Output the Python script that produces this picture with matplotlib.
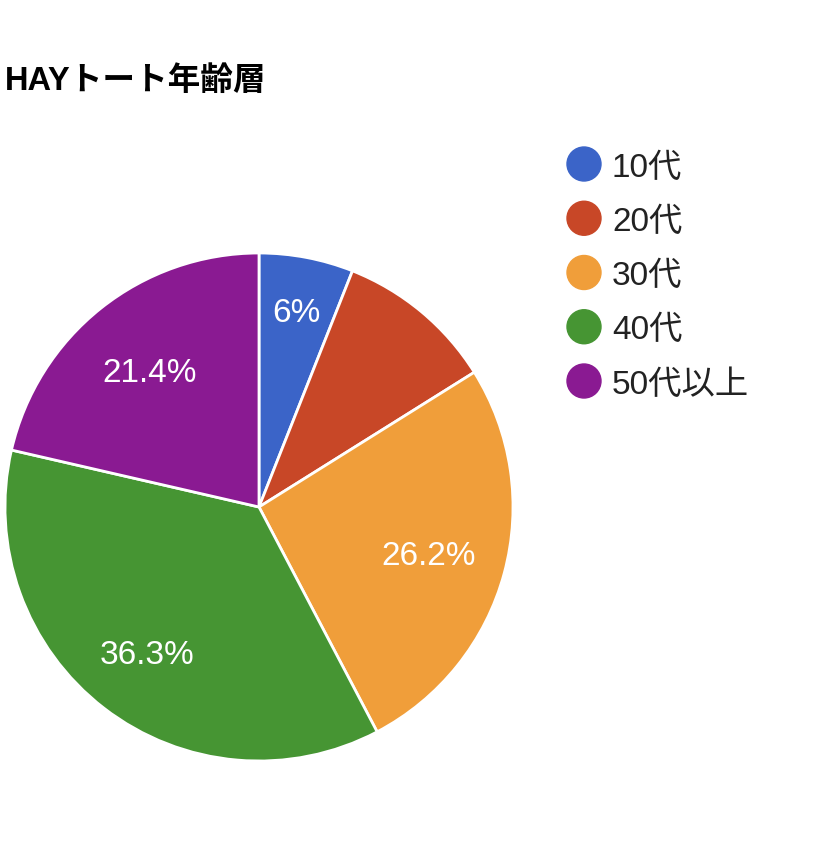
import numpy as np
import matplotlib
matplotlib.use("Agg")
import matplotlib.pyplot as plt

plt.rcParams['font.family'] = ['Liberation Sans', 'Noto Sans CJK JP', 'DejaVu Sans']

title = "HAYトート年齢層"
categories = ["10代", "20代", "30代", "40代", "50代以上"]
shares = [6.0, 10.1, 26.2, 36.3, 21.4]
shown = [True, False, True, True, True]
colors = ["#3b64c8", "#c84727", "#f09e3a", "#469533", "#8a1a92"]

W, H = 816, 855
fig = plt.figure(figsize=(W / 100, H / 100), dpi=100)

cx, cy, r = 259, 507, 254
ax = fig.add_axes([(cx - r) / W, (H - cy - r) / H, 2 * r / W, 2 * r / H])
wedges, _ = ax.pie(shares, colors=colors, startangle=90, counterclock=False,
                   radius=1.0, wedgeprops=dict(edgecolor="white", linewidth=2))
ax.set_xlim(-1, 1)
ax.set_ylim(-1, 1)
ax.set_aspect("equal")
ax.axis("off")

for w, v, s in zip(wedges, shares, shown):
    if not s:
        continue
    ang = np.deg2rad((w.theta1 + w.theta2) / 2)
    d = 0.79 if v < 8 else (0.72 if v > 30 else 0.69)
    ax.text(d * np.cos(ang), d * np.sin(ang) - 0.015, f"{v:g}%", color="white",
            fontsize=24, ha="center", va="center")

fig.text(5 / W, 1 - 81 / H, title, fontsize=23.5, fontweight="bold",
         ha="left", va="center", family=['Liberation Sans', 'Noto Sans CJK JP'])

# legend
for i, (c, lab) in enumerate(zip(colors, categories)):
    y = 1 - (164 + 54.25 * i) / H
    fig.patches.append(matplotlib.patches.Ellipse((584 / W, y), 34 / W, 34 / H,
                                                  transform=fig.transFigure, color=c))
    fig.text(612 / W, y - 4 / H, lab, fontsize=24, color="#222222", ha="left", va="center")

fig.savefig("out.png", dpi=100, facecolor="white")
